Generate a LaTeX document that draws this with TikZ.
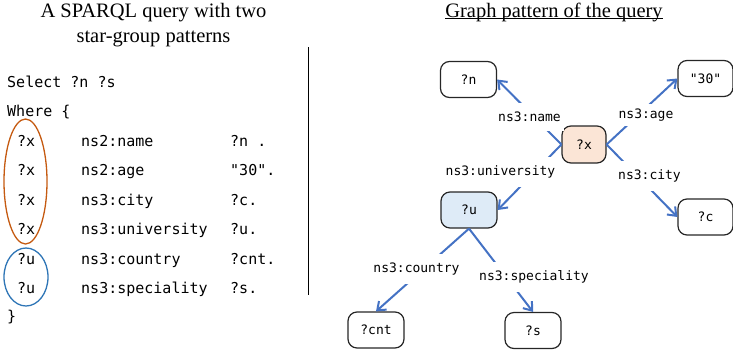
\documentclass[tikz,border=0pt]{standalone}
\usepackage{fontspec}
\setmainfont{Liberation Serif}
\setmonofont{DejaVu Sans Mono}
\usetikzlibrary{arrows.meta}

\definecolor{edgeblue}{HTML}{4472C4}
\definecolor{ringorange}{HTML}{C55A11}
\definecolor{ringblue}{HTML}{2E75B6}
\definecolor{xfill}{HTML}{FBE5D6}
\definecolor{ufill}{HTML}{DEEBF7}

\begin{document}
\begin{tikzpicture}[x=1pt,y=-1pt,
  title/.style={font=\fontsize{20.5}{24}\selectfont, inner sep=0pt, anchor=base},
  code/.style={font=\ttfamily\fontsize{15}{18}\selectfont, inner sep=0pt, anchor=base west},
  var/.style={draw=black!85, line width=1.2pt, rounded corners=9pt,
    minimum width=56pt, minimum height=36pt, inner sep=0pt,
    font=\ttfamily\fontsize{13}{15}\selectfont},
  edge/.style={draw=edgeblue, line width=2pt,
    -{Straight Barb[length=7.5pt,width=11.5pt]}},
  elabel/.style={fill=white, inner xsep=3pt, inner ysep=9pt,
    font=\ttfamily\fontsize{13}{15}\selectfont},
  ring/.style={line width=1.3pt}
]
\useasboundingbox (0,0) rectangle (733,354);

% ---- left: the query text ----
\node[title] (lt1) at (153.5,17) {A SPARQL query with two};
\node[title] (lt2) at (153.5,42) {star-group patterns};

\node[code] (sel)   at (7,87)    {Select ?n ?s};
\node[code] (where) at (7,116.5) {Where \{};

\node[code] (s1) at (17,146)   {?x};
\node[code] (p1) at (81,146)   {ns2:name};
\node[code] (o1) at (230,146)  {?n .};
\node[code] (s2) at (17,175.5) {?x};
\node[code] (p2) at (81,175.5) {ns2:age};
\node[code] (o2) at (230,175.5) {"30".};
\node[code] (s3) at (17,205)   {?x};
\node[code] (p3) at (81,205)   {ns3:city};
\node[code] (o3) at (230,205)  {?c.};
\node[code] (s4) at (17,234.5) {?x};
\node[code] (p4) at (81,234.5) {ns3:university};
\node[code] (o4) at (230,234.5) {?u.};
\node[code] (s5) at (17,264)   {?u};
\node[code] (p5) at (81,264)   {ns3:country};
\node[code] (o5) at (230,264)  {?cnt.};
\node[code] (s6) at (17,293.5) {?u};
\node[code] (p6) at (81,293.5) {ns3:speciality};
\node[code] (o6) at (230,293.5) {?s.};
\node[code] (close) at (7,321) {\}};

% star groups
\draw[ring, draw=ringorange] (25.5,181.5) ellipse [x radius=21.5pt, y radius=62.5pt];
\draw[ring, draw=ringblue]   (26,277)    ellipse [x radius=22pt,   y radius=29pt];

% separator
\draw[line width=1.5pt] (308.5,47) -- (308.5,295);

% ---- right: the graph pattern ----
\node[title] (rt) at (554,17) {Graph pattern of the query};
\draw[line width=1pt] ([yshift=-1.6pt]rt.base west) -- ([yshift=-1.6pt]rt.base east);

\node[var] (n)     at (468.5,79.5) {?n};
\node[var, minimum width=55pt] (thirty) at (705.5,78.5) {"30"};
\node[var, fill=xfill, minimum width=44pt, minimum height=37pt] (x) at (584,144.5) {?x};
\node[var, fill=ufill] (u)   at (469,210)   {?u};
\node[var, minimum width=55pt] (c) at (705.5,217) {?c};
\node[var] (cnt)   at (376,330)   {?cnt};
\node[var] (s)     at (533,330.5) {?s};

\draw[edge] (x.west)  -- (n.east);
\draw[edge] (x.east)  -- (thirty.west);
\draw[edge] (x.west)  -- (u.east);
\draw[edge] (x.east)  -- (c.west);
\draw[edge] (u.south) -- (cnt.north);
\draw[edge] (u.south) -- (s.north);

\node[elabel] (lname)  at (529.5,117) {ns3:name};
\node[elabel, inner ysep=5pt] (lage) at (646,115) {ns3:age};
\node[elabel] (luni)   at (500.5,172) {ns3:university};
\node[elabel] (lcity)  at (649.5,176) {ns3:city};
\node[elabel] (lcnt)   at (416.5,269) {ns3:country};
\node[elabel] (lspec)  at (534,277)   {ns3:speciality};
\end{tikzpicture}
\end{document}
